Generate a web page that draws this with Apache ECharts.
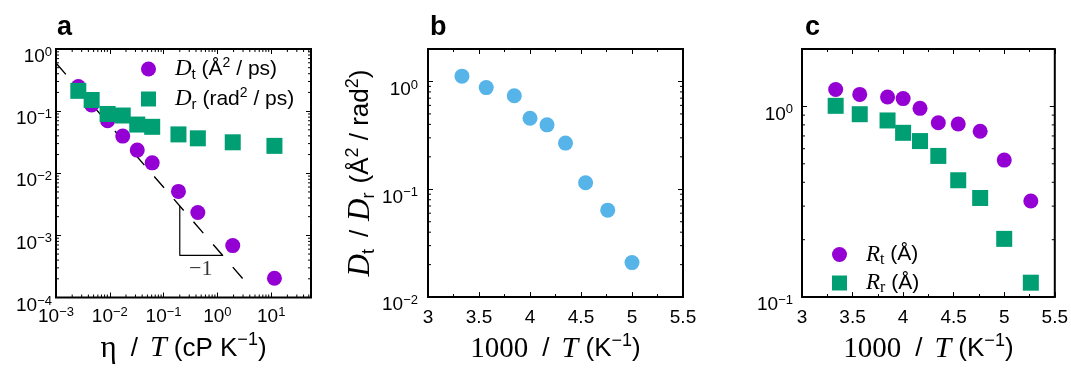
<!DOCTYPE html>
<html><head><meta charset="utf-8">
<script src="https://cdn.jsdelivr.net/npm/echarts@6/dist/echarts.min.js"></script>
<style>html,body{margin:0;padding:0;background:#fff}#c{width:1071px;height:369px}</style>
</head><body><div id="c"></div><script>
// ---------------- data ----------------
// panel a : diffusion coefficients vs eta/T
const etaOverT = [0.0026, 0.0046, 0.0091, 0.0174, 0.0324, 0.0614, 0.189, 0.433, 1.93, 11.5];
const Dt = [0.248, 0.126, 0.070, 0.0396, 0.0236, 0.0147, 0.0051, 0.00233, 0.000685, 0.000204];
const Dr = [0.212, 0.151, 0.090, 0.085, 0.0608, 0.0559, 0.0422, 0.0365, 0.0315, 0.0276];
const fitLine = [[0.001, 0.594], [4.0, 1.49e-4]];
const slopeTriangle = [[0.2, 2.97e-3], [0.2, 4.75e-4], [1.25, 4.75e-4]];
const slopeLabelAt = [[0.49, 2.89e-4]];
const slopeLabel = '−1';
// panel b : Dt/Dr vs 1000/T
const invT_b = [3.333, 3.571, 3.846, 4.0, 4.167, 4.348, 4.545, 4.762, 5.0];
const DtOverDr = [1.12, 0.877, 0.738, 0.456, 0.396, 0.268, 0.115, 0.064, 0.0209];
// panel c : Rt, Rr vs 1000/T
const invT_c = [3.333, 3.571, 3.846, 4.0, 4.167, 4.348, 4.545, 4.762, 5.0, 5.263];
const Rt = [1.227, 1.156, 1.12, 1.099, 0.977, 0.821, 0.809, 0.741, 0.523, 0.319];
const Rr = [1.007, 0.910, 0.844, 0.727, 0.658, 0.55, 0.41, 0.331, 0.202, 0.119];
// tick decades (exponents) for the log axes
const decadesAx = [-3, -2, -1, 0, 1];
const decadesAy = [-4, -3, -2, -1, 0];
const decadesBy = [-2, -1, 0];
const decadesCy = [-1, 0];
const panelLabels = ['a', 'b', 'c'];

// ---------------- styling ----------------
const SANS = "'Liberation Sans', Arial, Helvetica, sans-serif";
const SERIF = "'Liberation Serif', 'Times New Roman', serif";
const PURPLE = '#9400d3', GREEN = '#009e73', BLUE = '#56b4e9';

const tickRich = {
  b: {fontFamily: SANS, fontSize: 19, lineHeight: 22, color: '#000'},
  s: {fontFamily: SANS, fontSize: 13, lineHeight: 12, verticalAlign: 'top', color: '#000'}
};
const nameRich = {
  sans: {fontFamily: SANS, fontSize: 26, lineHeight: 34, color: '#000'},
  ser: {fontFamily: SERIF, fontSize: 29, lineHeight: 34, color: '#000'},
  eta: {fontFamily: SERIF, fontSize: 31, lineHeight: 34, color: '#000'},
  it: {fontFamily: SERIF, fontStyle: 'italic', fontSize: 30, lineHeight: 34, color: '#000'},
  itD: {fontFamily: SERIF, fontStyle: 'italic', fontSize: 31, lineHeight: 34, color: '#000'},
  sup: {fontFamily: SANS, fontSize: 18, lineHeight: 16, verticalAlign: 'top', color: '#000'},
  sub: {fontFamily: SANS, fontSize: 18, lineHeight: 16, verticalAlign: 'bottom', color: '#000'},
  g14: {width: 14, lineHeight: 34},
  g12: {width: 12, lineHeight: 34},
  g9: {width: 9, lineHeight: 34}
};
const legRich = {
  gap: {width: 14, lineHeight: 26},
  sans: {fontFamily: SANS, fontSize: 21, lineHeight: 26, color: '#000'},
  it: {fontFamily: SERIF, fontStyle: 'italic', fontSize: 23, lineHeight: 26, color: '#000'},
  sup: {fontFamily: SANS, fontSize: 14, lineHeight: 12, verticalAlign: 'top', color: '#000'},
  sub: {fontFamily: SANS, fontSize: 15, lineHeight: 12, verticalAlign: 'bottom', color: '#000'},
  subs: {fontFamily: SERIF, fontSize: 16, lineHeight: 12, verticalAlign: 'bottom', color: '#000'}
};
const legendText = {
  Dt: '{gap| }{it|D}{sub|t}{sans| (Å}{sup|2}{sans| / ps)}',
  Dr: '{gap| }{it|D}{sub|r}{sans| (rad}{sup|2}{sans| / ps)}',
  Rt: '{gap| }{it|R}{subs|t}{sans| (Å)}',
  Rr: '{gap| }{it|R}{subs|r}{sans| (Å)}'
};

function logFmt(decades) {
  return function (v) {
    const e = Math.log10(v), r = Math.round(e);
    if (Math.abs(e - r) > 1e-6 || decades.indexOf(r) < 0) return '';
    return '{b|10}{s|' + (r < 0 ? '−' + (-r) : String(r)) + '}';
  };
}
const tickBase = {
  axisLine: {show: false},
  splitLine: {show: false},
  axisTick: {show: true, inside: true, length: 5, lineStyle: {color: '#000', width: 1}}
};
function logAxis(gi, pos, min, max, decades, margin, showLabel, extra) {
  const vertical = (pos === 'left' || pos === 'right');
  return Object.assign({
    type: 'log', logBase: 10, gridIndex: gi, position: pos, min: min, max: max, interval: 1,
    axisLabel: {show: showLabel, formatter: logFmt(decades), rich: tickRich, margin: margin,
      padding: vertical ? [16, 0, 0, 0] : 0,
      showMinLabel: true, showMaxLabel: true}
  }, tickBase, extra || {});
}
function linAxis(gi, pos, showLabel, extra) {
  return Object.assign({
    type: 'value', gridIndex: gi, position: pos, min: 3, max: 5.5, interval: 0.5,
    minorTick: {show: true, splitNumber: 2, length: 3, lineStyle: {color: '#000', width: 1}},
    axisLabel: {show: showLabel, fontFamily: SANS, fontSize: 19, color: '#000', margin: 11,
      showMinLabel: true, showMaxLabel: true}
  }, tickBase, extra || {});
}
const invTName = {
  name: '{ser|1000}{g14| }{sans|/}{g12| }{it|T}{sans| (K}{sup|−1}{sans|)}',
  nameLocation: 'middle', nameGap: 34, nameTextStyle: {rich: nameRich}
};

// minor ticks of log axes (decoration), drawn through the axes' own coordinate system
function minorValues(lo, hi) {
  const out = [];
  for (let k = Math.floor(Math.log10(lo)); k <= Math.ceil(Math.log10(hi)); k++)
    for (let m = 2; m <= 9; m++) { const v = m * Math.pow(10, k); if (v > lo * 1.0001 && v < hi * 0.9999) out.push(v); }
  return out;
}
function minorX(gi, xlo, xhi, ylo, yhi) {
  return {type: 'custom', xAxisIndex: gi * 2, yAxisIndex: gi * 2, silent: true, z: 6,
    data: minorValues(xlo, xhi).map(v => [v, ylo]),
    renderItem: function (p, api) {
      const b = api.coord([api.value(0), ylo]), t = api.coord([api.value(0), yhi]);
      return {type: 'group', children: [
        {type: 'line', shape: {x1: b[0], y1: b[1], x2: b[0], y2: b[1] - 3}, style: {stroke: '#000', lineWidth: 1}},
        {type: 'line', shape: {x1: t[0], y1: t[1], x2: t[0], y2: t[1] + 3}, style: {stroke: '#000', lineWidth: 1}}]};
    }};
}
function minorY(gi, xlo, xhi, ylo, yhi) {
  return {type: 'custom', xAxisIndex: gi * 2, yAxisIndex: gi * 2, silent: true, z: 6,
    data: minorValues(ylo, yhi).map(v => [xlo, v]),
    renderItem: function (p, api) {
      const l = api.coord([xlo, api.value(1)]), r = api.coord([xhi, api.value(1)]);
      return {type: 'group', children: [
        {type: 'line', shape: {x1: l[0], y1: l[1], x2: l[0] + 3, y2: l[1]}, style: {stroke: '#000', lineWidth: 1}},
        {type: 'line', shape: {x1: r[0], y1: r[1], x2: r[0] - 3, y2: r[1]}, style: {stroke: '#000', lineWidth: 1}}]};
    }};
}

const gridBase = {show: true, borderWidth: 2, borderColor: '#000', backgroundColor: 'transparent', containLabel: false};
const A = {xlo: 0.001, xhi: 55, ylo: 1e-4, yhi: 1};

const option = {
  animation: false,
  backgroundColor: '#fff',
  title: panelLabels.map((t, i) => ({
    text: t, left: [57, 430, 805][i], top: 14, padding: 0,
    textStyle: {fontFamily: SANS, fontSize: 27, fontWeight: 'bold', color: '#000'}
  })),
  grid: [
    Object.assign({left: 56, top: 49, width: 255, height: 253}, gridBase),
    Object.assign({left: 428, top: 49, width: 255, height: 253}, gridBase),
    Object.assign({left: 802, top: 49, width: 255, height: 253}, gridBase)
  ],
  xAxis: [
    logAxis(0, 'bottom', A.xlo, A.xhi, decadesAx, 8, true, {
      name: '{eta|η}{g14| }{sans|/}{g12| }{it|T}{sans| (cP K}{sup|−1}{sans|)}',
      nameLocation: 'middle', nameGap: 34, nameTextStyle: {rich: nameRich}
    }),
    logAxis(0, 'top', A.xlo, A.xhi, decadesAx, 8, false),
    linAxis(1, 'bottom', true, invTName),
    linAxis(1, 'top', false),
    linAxis(2, 'bottom', true, invTName),
    linAxis(2, 'top', false)
  ],
  yAxis: [
    logAxis(0, 'left', A.ylo, A.yhi, decadesAy, 4, true),
    logAxis(0, 'right', A.ylo, A.yhi, decadesAy, 4, false),
    logAxis(1, 'left', 0.01, 2, decadesBy, 10, true, {
      name: '{itD|D}{sub|t}{g12| }{sans|/}{g9| }{itD|D}{sub|r}{g9| }{sans|(Å}{sup|2}{sans| / rad}{sup|2}{sans|)}',
      nameLocation: 'middle', nameGap: 42, nameTextStyle: {rich: nameRich}
    }),
    logAxis(1, 'right', 0.01, 2, decadesBy, 10, false),
    logAxis(2, 'left', 0.1, 2, decadesCy, 9, true),
    logAxis(2, 'right', 0.1, 2, decadesCy, 9, false)
  ],
  legend: [
    {data: [{name: 'Dt', icon: 'circle'}, {name: 'Dr', icon: 'rect'}], orient: 'vertical',
      left: 141, top: 56, itemWidth: 15, itemHeight: 15, itemGap: 4, padding: 0,
      selectedMode: false, formatter: n => legendText[n], textStyle: {rich: legRich}},
    {data: [{name: 'Rt', icon: 'circle'}, {name: 'Rr', icon: 'rect'}], orient: 'vertical',
      left: 832, top: 243, itemWidth: 15, itemHeight: 15, itemGap: 4, padding: 0,
      selectedMode: false, formatter: n => legendText[n], textStyle: {rich: legRich}}
  ],
  series: [
    {type: 'line', xAxisIndex: 0, yAxisIndex: 0, data: fitLine, symbol: 'none', silent: true, z: 1,
      lineStyle: {color: '#000', width: 1.4, type: [15, 15]}},
    {type: 'line', xAxisIndex: 0, yAxisIndex: 0, data: slopeTriangle, symbol: 'none', silent: true, z: 1,
      lineStyle: {color: '#000', width: 1.2}},
    {type: 'scatter', xAxisIndex: 0, yAxisIndex: 0, data: slopeLabelAt, symbolSize: 1, silent: true, z: 1,
      itemStyle: {color: 'rgba(0,0,0,0)'},
      label: {show: true, position: 'inside', formatter: slopeLabel, fontFamily: SERIF, fontSize: 22, color: '#000'}},
    {name: 'Dt', type: 'scatter', xAxisIndex: 0, yAxisIndex: 0, symbol: 'circle', symbolSize: 15, z: 3,
      itemStyle: {color: PURPLE, opacity: 1}, data: etaOverT.map((x, i) => [x, Dt[i]])},
    {name: 'Dr', type: 'scatter', xAxisIndex: 0, yAxisIndex: 0, symbol: 'rect', symbolSize: 16, z: 4,
      itemStyle: {color: GREEN, opacity: 1}, data: etaOverT.map((x, i) => [x, Dr[i]])},
    {name: 'DtDr', type: 'scatter', xAxisIndex: 2, yAxisIndex: 2, symbol: 'circle', symbolSize: 15, z: 3,
      itemStyle: {color: BLUE, opacity: 1}, data: invT_b.map((x, i) => [x, DtOverDr[i]])},
    {name: 'Rt', type: 'scatter', xAxisIndex: 4, yAxisIndex: 4, symbol: 'circle', symbolSize: 15, z: 3,
      itemStyle: {color: PURPLE, opacity: 1}, data: invT_c.map((x, i) => [x, Rt[i]])},
    {name: 'Rr', type: 'scatter', xAxisIndex: 4, yAxisIndex: 4, symbol: 'rect', symbolSize: 16, z: 4,
      itemStyle: {color: GREEN, opacity: 1}, data: invT_c.map((x, i) => [x, Rr[i]])},
    minorX(0, A.xlo, A.xhi, A.ylo, A.yhi),
    minorY(0, A.xlo, A.xhi, A.ylo, A.yhi),
    minorY(1, 3, 5.5, 0.01, 2),
    minorY(2, 3, 5.5, 0.1, 2)
  ]
};
const chart = echarts.init(document.getElementById('c'), null, {renderer: 'canvas'});
chart.setOption(option);
</script></body></html>
